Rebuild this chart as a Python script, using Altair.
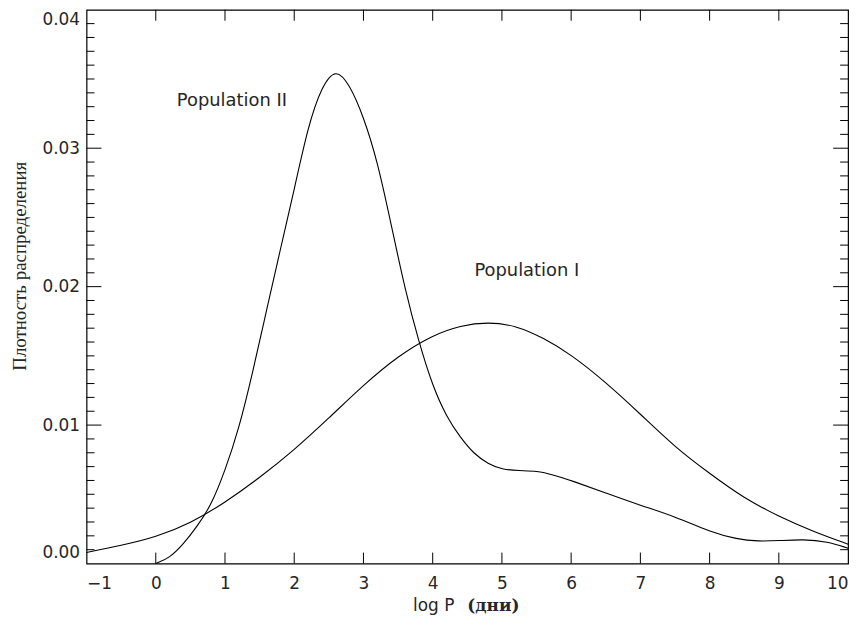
import altair as alt
import pandas as pd

# Population I curve (log P, density)
pop1_x = [-1.0, -0.5, 0.0, 0.5, 1.0, 1.5, 2.0, 2.5, 3.0, 3.5, 4.0, 4.4, 4.8, 5.2, 5.6,
          6.0, 6.5, 7.0, 7.5, 8.0, 8.5, 9.0, 9.5, 10.0]
pop1_y = [0.0008, 0.0013, 0.0019, 0.0029, 0.0044, 0.0062, 0.0082, 0.0105, 0.0129, 0.0150,
          0.0165, 0.0172, 0.01745, 0.0172, 0.0163, 0.0151, 0.0131, 0.0108, 0.0084, 0.0065,
          0.0047, 0.0034, 0.0023, 0.0014]

# Population II curve
pop2_x = [0.0, 0.2, 0.4, 0.6, 0.8, 1.0, 1.2, 1.4, 1.6, 1.8, 2.0, 2.2, 2.4, 2.6, 2.8, 3.0,
          3.2, 3.4, 3.6, 3.8, 4.0, 4.2, 4.4, 4.6, 4.8, 5.0, 5.25, 5.5, 5.75, 6.0, 6.5, 7.0,
          7.5, 8.0, 8.4, 8.7, 9.0, 9.35, 9.7, 10.0]
pop2_y = [0.0, 0.0004, 0.0014, 0.0027, 0.0042, 0.0067, 0.0097, 0.0138, 0.0183, 0.0227,
          0.0270, 0.0316, 0.0345, 0.0358, 0.0346, 0.0323, 0.0291, 0.0245, 0.0198, 0.0160,
          0.0128, 0.0106, 0.0091, 0.0079, 0.0072, 0.0068, 0.0067, 0.0067, 0.0064, 0.0060,
          0.0051, 0.0042, 0.0034, 0.0023, 0.00175, 0.0016, 0.00165, 0.00175, 0.0016, 0.0011]

# Labels
label_text = ["Population II", "Population I"]
label_x = [1.10, 5.36]
label_y = [0.0334, 0.0211]

x_ticks = list(range(-1, 11))
x_inner_ticks = list(range(0, 10))
y_major = [0.00, 0.01, 0.02, 0.03, 0.04]
y_major_inner = [0.01, 0.02, 0.03]
y_minor = [round(i * 0.001, 3) for i in range(1, 40) if i % 10 != 0]

W, H = 766, 557
SANS = "DejaVu Sans"
SERIF = "Liberation Serif"
INK = "#262626"

df = pd.concat([
    pd.DataFrame({"x": pop1_x, "y": pop1_y, "s": "Population I"}),
    pd.DataFrame({"x": pop2_x, "y": pop2_y, "s": "Population II"}),
])

xs = alt.Scale(domain=[-1, 10], nice=False, zero=False)
ys = alt.Scale(domain=[0, 0.04], nice=False)

xaxis = alt.Axis(values=x_ticks, format="d", ticks=False, domain=False, grid=False,
                 labelFont=SANS, labelFontSize=17, labelColor=INK, labelPadding=12,
                 title=None)
yaxis = alt.Axis(values=y_major, format=".2f", ticks=False, domain=False, grid=False,
                 labelFont=SANS, labelFontSize=17, labelColor=INK, labelPadding=7,
                 labelFlush=True, labelFlushOffset=-2, title=None)

lines = alt.Chart(df).mark_line(color="black", strokeWidth=1.1, interpolate="basis").encode(
    x=alt.X("x:Q", scale=xs, axis=xaxis),
    y=alt.Y("y:Q", scale=ys, axis=yaxis),
    detail="s:N",
)

xt = pd.DataFrame({"v": x_inner_ticks})
bottom_ticks = alt.Chart(xt).mark_rule(color="black", strokeWidth=1).encode(
    x=alt.X("v:Q", scale=xs), y=alt.value(H), y2=alt.value(H - 11))
top_ticks = alt.Chart(xt).mark_rule(color="black", strokeWidth=1).encode(
    x=alt.X("v:Q", scale=xs), y=alt.value(0), y2=alt.value(11))

ymj = pd.DataFrame({"v": y_major_inner})
ymn = pd.DataFrame({"v": y_minor})
left_major = alt.Chart(ymj).mark_rule(color="black", strokeWidth=1).encode(
    y=alt.Y("v:Q", scale=ys), x=alt.value(0), x2=alt.value(15))
right_major = alt.Chart(ymj).mark_rule(color="black", strokeWidth=1).encode(
    y=alt.Y("v:Q", scale=ys), x=alt.value(W), x2=alt.value(W - 15))
left_minor = alt.Chart(ymn).mark_rule(color="black", strokeWidth=1).encode(
    y=alt.Y("v:Q", scale=ys), x=alt.value(0), x2=alt.value(8))
right_minor = alt.Chart(ymn).mark_rule(color="black", strokeWidth=1).encode(
    y=alt.Y("v:Q", scale=ys), x=alt.value(W), x2=alt.value(W - 8))

labels = alt.Chart(pd.DataFrame({"t": label_text, "x": label_x, "y": label_y})).mark_text(
    font=SANS, fontSize=18, color=INK, align="center", baseline="middle").encode(
    x=alt.X("x:Q", scale=xs), y=alt.Y("y:Q", scale=ys), text="t:N")

ytitle = alt.Chart(pd.DataFrame({"t": ["Плотность распределения"]})).mark_text(
    font=SERIF, fontSize=19, color=INK, angle=270, align="center", baseline="middle").encode(
    x=alt.value(-67), y=alt.value(258), text="t:N")

xtitle1 = alt.Chart(pd.DataFrame({"t": ["log P"]})).mark_text(
    font=SANS, fontSize=17, color=INK, align="right", baseline="alphabetic").encode(
    x=alt.value(370), y=alt.value(605), text="t:N")
xtitle2 = alt.Chart(pd.DataFrame({"t": ["(дни)"]})).mark_text(
    font="DejaVu Serif", fontSize=17, fontWeight="bold", color=INK, align="left",
    baseline="alphabetic").encode(
    x=alt.value(383), y=alt.value(605), text="t:N")

chart = alt.layer(
    lines, bottom_ticks, top_ticks, left_major, right_major, left_minor, right_minor,
    labels, ytitle, xtitle1, xtitle2,
).properties(
    width=W, height=H,
    autosize=alt.AutoSizeParams(type="none"),
    padding={"left": 79, "top": 0, "right": 12, "bottom": 51},
    background="white",
).configure_view(stroke="black", strokeWidth=1.2)

chart.save("out.html", embed_options={"renderer": "svg", "actions": False})
